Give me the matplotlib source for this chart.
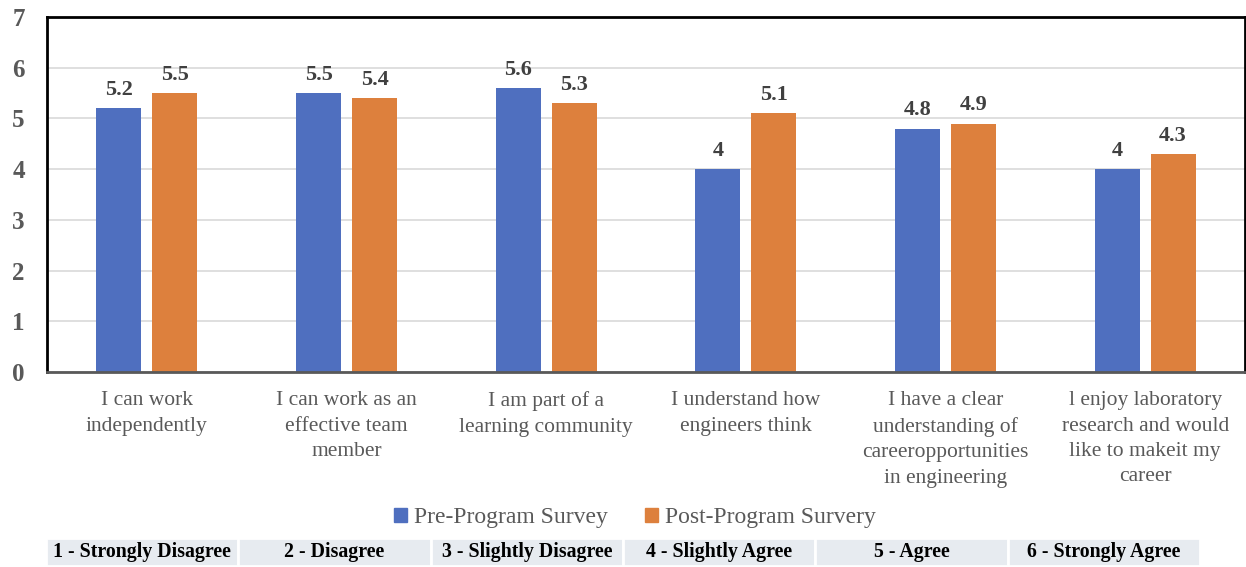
import matplotlib
matplotlib.use("Agg")
import matplotlib.pyplot as plt
import numpy as np
from matplotlib.patches import Patch

categories = [
    "I can work\nindependently",
    "I can work as an\neffective team\nmember",
    "I am part of a\nlearning community",
    "I understand how\nengineers think",
    "I have a clear\nunderstanding of\ncareeropportunities\nin engineering",
    "l enjoy laboratory\nresearch and would\nlike to makeit my\ncareer",
]
pre_values = [5.2, 5.5, 5.6, 4, 4.8, 4]
post_values = [5.5, 5.4, 5.3, 5.1, 4.9, 4.3]
series_names = ["Pre-Program Survey", "Post-Program Survery"]
scale_labels = ["1 - Strongly Disagree", "2 - Disagree", "3 - Slightly Disagree",
                "4 - Slightly Agree", "5 - Agree", "6 - Strongly Agree"]

BLUE = "#4f6fbf"
ORANGE = "#dd803d"
SERIF = "Liberation Serif"

W, H = 1246, 567
fig = plt.figure(figsize=(W / 100, H / 100), dpi=100)
ax = fig.add_axes([47 / W, 1 - 372 / H, 1198 / W, 355 / H])

x = np.arange(len(categories))
bw = 0.225
b1 = ax.bar(x - 0.14, pre_values, bw, color=BLUE, zorder=3)
b2 = ax.bar(x + 0.14, post_values, bw, color=ORANGE, zorder=3)

for bars, vals in ((b1, pre_values), (b2, post_values)):
    for r, v in zip(bars, vals):
        ax.annotate(f"{v:g}", (r.get_x() + r.get_width() / 2, v),
                    xytext=(0, 6), textcoords="offset points",
                    ha="center", va="bottom", fontsize=16, fontweight="bold",
                    family=SERIF, color="#404040")

ax.set_xlim(-0.5, len(categories) - 0.5)
ax.set_ylim(0, 7)
ax.set_yticks(range(8))
ax.set_yticklabels([str(i) for i in range(8)], fontsize=18, fontweight="bold",
                   family=SERIF, color="#595959")
ax.tick_params(axis="y", length=0, pad=16)
ax.set_xticks(x)
ax.set_xticklabels(categories, fontsize=15.5, family=SERIF, color="#595959",
                   linespacing=1.45, va="top")
ax.tick_params(axis="x", length=0, pad=14)

ax.yaxis.grid(True, color="#d9d9d9", linewidth=1.2, zorder=0)
ax.set_axisbelow(True)
for s in ("left", "top", "right"):
    ax.spines[s].set_color("black")
    ax.spines[s].set_linewidth(2)
ax.spines["bottom"].set_color("#595959")
ax.spines["bottom"].set_linewidth(2)
ax.spines["bottom"].set_zorder(4)

handles = [Patch(color=BLUE), Patch(color=ORANGE)]
fig.legend(handles, series_names, loc="center", bbox_to_anchor=(635 / W, 1 - 518 / H),
           ncol=2, frameon=False, handlelength=0.55, handleheight=0.55,
           handletextpad=0.3, columnspacing=1.6,
           prop={"family": SERIF, "size": 17}, labelcolor="#595959")

tax = fig.add_axes([46 / W, 1 - 566 / H, 1154 / W, 28 / H])
tax.axis("off")
tab = tax.table(cellText=[scale_labels], bbox=[0, 0, 1, 1], cellLoc="center")
tab.auto_set_font_size(False)
for (r, c), cell in tab.get_celld().items():
    cell.set_facecolor("#e7ebf0")
    cell.set_edgecolor("white")
    cell.set_linewidth(2)
    cell.get_text().set_fontsize(14.3)
    cell.get_text().set_fontweight("bold")
    cell.get_text().set_family(SERIF)

fig.savefig("out.png", dpi=100)
plt.close(fig)
